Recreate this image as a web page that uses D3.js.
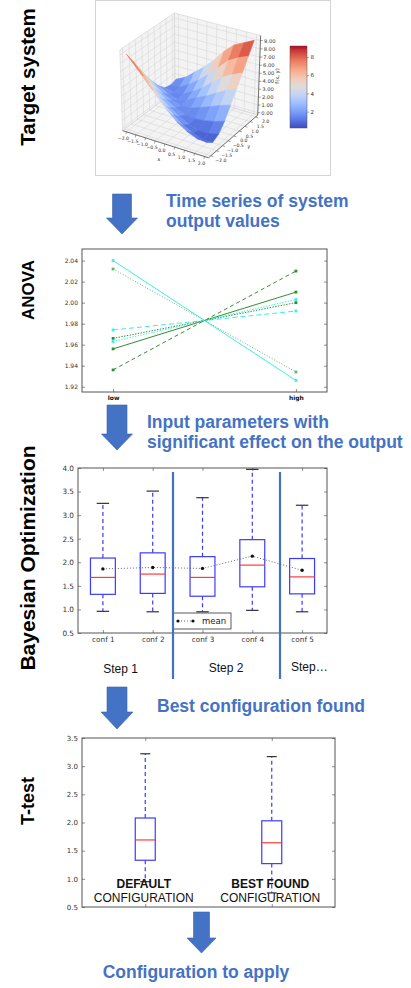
<!DOCTYPE html>
<html>
<head>
<meta charset="utf-8">
<script src="https://cdn.jsdelivr.net/npm/d3@7"></script>
<style>
  body { margin: 0; background: #fff; }
  svg { display: block; }
</style>
</head>
<body>
<svg id="chart" width="411" height="988"></svg>
<script>
// ---- data ----
const sectionLabels = ["Target system", "ANOVA", "Bayesian Optimization", "T-test"];
const stepTexts = [
  ["Time series of system", "output values"],
  ["Input parameters with", "significant effect on the output"],
  ["Best configuration found"],
  ["Configuration to apply"]
];

// target system surface f(x, y), rows = x, cols = y
const gridX = [-2, -1.5, -1, -0.5, 0, 0.5, 1, 1.5, 2];
const gridY = [-2, -1.5, -1, -0.5, 0, 0.5, 1, 1.5, 2];
const surfaceZ = [
  [9.0, 7.6, 6.2, 4.8, 3.5, 2.4, 1.6, 1.4, 1.6],
  [7.7, 6.2, 4.8, 3.5, 2.4, 1.7, 1.3, 1.5, 2.2],
  [6.3, 4.8, 3.5, 2.5, 1.8, 1.4, 1.5, 2.2, 3.2],
  [5.0, 3.6, 2.5, 1.8, 1.5, 1.7, 2.2, 3.1, 4.2],
  [3.7, 2.5, 1.7, 1.3, 1.6, 2.3, 3.0, 4.1, 5.4],
  [2.6, 1.6, 1.1, 1.2, 2.0, 2.9, 4.0, 5.3, 6.8],
  [1.8, 1.0, 0.7, 1.3, 2.5, 3.6, 5.0, 6.5, 7.9],
  [1.3, 0.5, 0.7, 1.6, 3.0, 4.3, 5.7, 7.2, 8.5],
  [1.2, 0.6, 1.0, 2.0, 3.4, 4.8, 6.2, 7.7, 9.1]
];
const xyTicks = [-2, -1.5, -1, -0.5, 0, 0.5, 1, 1.5, 2];
const zTicks = [0, 1, 2, 3, 4, 5, 6, 7, 8, 9];
const cbarTicks = [2, 4, 6, 8];

// ANOVA: value at low / high level
const anovaLevels = ["low", "high"];
const anovaValues = [
  [2.040, 1.926],
  [2.032, 1.934],
  [1.936, 2.030],
  [1.956, 2.010],
  [1.974, 1.992],
  [1.966, 2.000],
  [1.963, 2.003]
];
const anovaTicks = [1.92, 1.94, 1.96, 1.98, 2.00, 2.02, 2.04];

// Bayesian optimization box plots
const confs = ["conf 1", "conf 2", "conf 3", "conf 4", "conf 5"];
const boLow = [0.96, 0.95, 0.95, 0.98, 0.95];
const boQ1 = [1.32, 1.34, 1.28, 1.48, 1.33];
const boMedian = [1.68, 1.75, 1.68, 1.94, 1.69];
const boQ3 = [2.09, 2.20, 2.12, 2.48, 2.08];
const boHigh = [3.25, 3.51, 3.37, 3.97, 3.21];
const boMean = [1.86, 1.89, 1.87, 2.13, 1.83];
const boTicks = [0.5, 1.0, 1.5, 2.0, 2.5, 3.0, 3.5, 4.0];
const stepNames = ["Step 1", "Step 2", "Step\u2026"];

// T-test box plots
const ttGroups = ["default", "best"];
const ttLow = [0.95, 0.75];
const ttQ1 = [1.33, 1.27];
const ttMedian = [1.69, 1.64];
const ttQ3 = [2.08, 2.03];
const ttHigh = [3.22, 3.17];
const ttTop = ["DEFAULT", "BEST FOUND"];
const ttBottom = ["CONFIGURATION", "CONFIGURATION"];
const ttTicks = [0.5, 1.0, 1.5, 2.0, 2.5, 3.0, 3.5];

// ---- styles ----
const ARIAL = "'Liberation Sans', Arial, sans-serif";
const MPL = "'DejaVu Sans', sans-serif";
const BLUE = "#4472c4";
const coolwarm = d3.piecewise(d3.interpolateLab, ["#3b4cc0", "#5977e3", "#7b9ff9", "#9ebeff", "#c0d4f5",
  "#dddcdc", "#f2cbb7", "#f7ac8e", "#ee8468", "#d65244", "#b40426"]);
const anovaStyles = [
  { color: "#3ceeee", dash: null },
  { color: "#62b962", dash: "1,1.8" },
  { color: "#2f8f2f", dash: "4,3" },
  { color: "#2f8f2f", dash: null },
  { color: "#3ceeee", dash: "5,3" },
  { color: "#2f8f2f", dash: "1.4,1.4" },
  { color: "#3ceeee", dash: "1.4,1.4" }
];

const svg = d3.select("#chart");
const minus = s => s.replace("-", "\u2212");

// ---- left section labels ----
const labelLayout = [
  { y: 77, size: 20.5 },
  { y: 290, size: 17 },
  { y: 558, size: 21 },
  { y: 801, size: 18 }
];
svg.selectAll("text.section").data(sectionLabels).join("text")
  .attr("class", "section")
  .attr("transform", (d, i) => `translate(${28 + labelLayout[i].size * 0.33},${labelLayout[i].y}) rotate(-90)`)
  .attr("text-anchor", "middle")
  .attr("font-family", ARIAL).attr("font-weight", "bold")
  .attr("font-size", (d, i) => labelLayout[i].size)
  .attr("fill", "#000")
  .text(d => d);

// ---- arrows and blue captions ----
const arrows = [
  { cx: 122, top: 194, head: 218, tip: 234, sw: 19, hw: 31 },
  { cx: 117, top: 405, head: 434, tip: 450, sw: 20, hw: 31 },
  { cx: 117, top: 687, head: 712, tip: 729, sw: 20, hw: 32 },
  { cx: 201.5, top: 912, head: 938, tip: 953, sw: 16, hw: 29 }
];
svg.selectAll("path.arrow").data(arrows).join("path")
  .attr("class", "arrow")
  .attr("d", a => d3.line()([
    [a.cx - a.sw / 2, a.top], [a.cx + a.sw / 2, a.top], [a.cx + a.sw / 2, a.head],
    [a.cx + a.hw / 2, a.head], [a.cx, a.tip], [a.cx - a.hw / 2, a.head],
    [a.cx - a.sw / 2, a.head]]) + "Z")
  .attr("fill", BLUE).attr("stroke", "#3a63ad").attr("stroke-width", 0.6);

const captionPos = [
  { x: 166, y: 207, anchor: "start" },
  { x: 147, y: 428, anchor: "start" },
  { x: 157, y: 712, anchor: "start" },
  { x: 196, y: 978, anchor: "middle" }
];
stepTexts.forEach((lines, i) => {
  const t = svg.append("text")
    .attr("x", captionPos[i].x).attr("y", captionPos[i].y)
    .attr("text-anchor", captionPos[i].anchor)
    .attr("font-family", ARIAL).attr("font-weight", "bold").attr("font-size", 17.5)
    .attr("fill", BLUE);
  lines.forEach((l, k) => t.append("tspan").attr("x", captionPos[i].x).attr("dy", k ? 19.5 : 0).text(l));
});

// ---- panel 1: 3D surface ----
const p1 = svg.append("g");
p1.append("rect").attr("x", 95.5).attr("y", 0.5).attr("width", 235).attr("height", 175)
  .attr("fill", "#fff").attr("stroke", "#d4d4d4");

const X3 = d3.scaleLinear().domain([-2.2, 2.2]).range([0, 1]);
const Y3 = d3.scaleLinear().domain([-2.2, 2.2]).range([0, 1]);
const Z3 = d3.scaleLinear().domain([-0.3, 9.6]).range([0, 1]);
const O3 = [122, 131], EX = [86, 25], EY = [52, -40], EZ = [0, -80], C3 = [190, 88];
const depth = (x, y, z) => X3(x) - 1.673 * Y3(y) + 1.178 * Z3(z);
const proj = (x, y, z) => {
  const a = X3(x), b = Y3(y), c = Z3(z);
  const f = 1 + 0.035 * (depth(x, y, z) - 0.25);
  const s = [O3[0] + a * EX[0] + b * EY[0] + c * EZ[0], O3[1] + a * EX[1] + b * EY[1] + c * EZ[1]];
  return [C3[0] + (s[0] - C3[0]) * f, C3[1] + (s[1] - C3[1]) * f];
};
const [xa, xb] = X3.domain(), [ya, yb] = Y3.domain(), [za, zb] = Z3.domain();
const poly = pts => d3.line()(pts.map(p => proj(...p))) + "Z";

const panes = [
  [[xa, ya, za], [xa, yb, za], [xa, yb, zb], [xa, ya, zb]],
  [[xa, yb, za], [xb, yb, za], [xb, yb, zb], [xa, yb, zb]],
  [[xa, ya, za], [xb, ya, za], [xb, yb, za], [xa, yb, za]]
];
p1.selectAll("path.pane").data(panes).join("path")
  .attr("class", "pane").attr("d", poly)
  .attr("fill", "#f3f3f3").attr("stroke", "#c8c8c8").attr("stroke-width", 0.5);

const gridLines = [];
xyTicks.forEach(v => {
  gridLines.push([[xa, v, za], [xa, v, zb]], [[v, yb, za], [v, yb, zb]],
    [[v, ya, za], [v, yb, za]], [[xa, v, za], [xb, v, za]]);
});
zTicks.forEach(v => gridLines.push([[xa, ya, v], [xa, yb, v]], [[xa, yb, v], [xb, yb, v]]));
p1.selectAll("path.grid3").data(gridLines).join("path")
  .attr("class", "grid3").attr("d", l => d3.line()(l.map(p => proj(...p))))
  .attr("stroke", "#d2d2d2").attr("stroke-width", 0.5).attr("fill", "none");

// axis lines
p1.append("path").attr("d", d3.line()([proj(xa, ya, za), proj(xb, ya, za), proj(xb, yb, za)]))
  .attr("fill", "none").attr("stroke", "#444").attr("stroke-width", 0.7);
p1.append("path").attr("d", d3.line()([proj(xb, yb, za), proj(xb, yb, zb)]))
  .attr("fill", "none").attr("stroke", "#444").attr("stroke-width", 0.7);

// tick labels
const tick3 = p1.append("g").attr("font-family", MPL).attr("font-size", 4.6).attr("fill", "#333");
xyTicks.forEach(v => {
  const p = proj(v, ya, za);
  tick3.append("line").attr("x1", p[0]).attr("y1", p[1]).attr("x2", p[0] - 0.5).attr("y2", p[1] + 2.5)
    .attr("stroke", "#444").attr("stroke-width", 0.5);
  tick3.append("text").attr("x", p[0] - 3).attr("y", p[1] + 8.5).attr("text-anchor", "middle")
    .text(minus(d3.format(".1f")(v)));
  const q = proj(xb, v, za);
  tick3.append("line").attr("x1", q[0]).attr("y1", q[1]).attr("x2", q[0] + 2.5).attr("y2", q[1] + 1)
    .attr("stroke", "#444").attr("stroke-width", 0.5);
  tick3.append("text").attr("x", q[0] + 10).attr("y", q[1] + 6.5).attr("text-anchor", "middle")
    .text(minus(d3.format(".1f")(v)));
});
const zlab = p1.append("g").attr("font-family", MPL).attr("font-size", 5.2).attr("fill", "#333");
zTicks.forEach(v => {
  const p = proj(xb, yb, v);
  zlab.append("line").attr("x1", p[0]).attr("y1", p[1]).attr("x2", p[0] + 2.5).attr("y2", p[1])
    .attr("stroke", "#444").attr("stroke-width", 0.5);
  zlab.append("text").attr("x", p[0] + 3.5).attr("y", p[1] + 2).text(d3.format(".2f")(v));
});
const xl = proj(0, ya, za), yl = proj(xb, 0, za);
zlab.append("text").attr("x", xl[0] - 6).attr("y", xl[1] + 17).attr("text-anchor", "middle").text("x");
zlab.append("text").attr("x", yl[0] + 15).attr("y", yl[1] + 12).attr("text-anchor", "middle").text("y");
zlab.append("text").attr("transform", "translate(279,76) rotate(-90)").attr("text-anchor", "middle").text("f(x, y)");

// surface quads, painted back to front
const cmap = d3.scaleSequential(coolwarm).domain([0.2, 9.2]);
const quads = [];
for (let i = 0; i < gridX.length - 1; i++) {
  for (let j = 0; j < gridY.length - 1; j++) {
    const pts = [[gridX[i], gridY[j], surfaceZ[i][j]], [gridX[i + 1], gridY[j], surfaceZ[i + 1][j]],
      [gridX[i + 1], gridY[j + 1], surfaceZ[i + 1][j + 1]], [gridX[i], gridY[j + 1], surfaceZ[i][j + 1]]];
    const m = [0, 1, 2].map(k => d3.mean(pts, p => p[k]));
    quads.push({ pts, z: m[2], d: depth(m[0], m[1], m[2]) });
  }
}
quads.sort((a, b) => a.d - b.d);
p1.selectAll("path.surf").data(quads).join("path")
  .attr("class", "surf").attr("d", q => poly(q.pts))
  .attr("fill", q => cmap(q.z)).attr("stroke", q => cmap(q.z)).attr("stroke-width", 0.6)
  .attr("stroke-linejoin", "round");

// colorbar
const cbY = d3.scaleLinear().domain([0.2, 9.2]).range([128, 46]);
const grad = svg.append("defs").append("linearGradient").attr("id", "cw")
  .attr("x1", 0).attr("y1", 1).attr("x2", 0).attr("y2", 0);
grad.selectAll("stop").data(d3.range(0, 1.001, 0.05)).join("stop")
  .attr("offset", d => d).attr("stop-color", d => coolwarm(d));
p1.append("rect").attr("x", 290).attr("y", cbY(9.2)).attr("width", 17).attr("height", cbY(0.2) - cbY(9.2))
  .attr("fill", "url(#cw)").attr("stroke", "#555").attr("stroke-width", 0.5);
p1.append("g").attr("transform", "translate(307,0)")
  .call(d3.axisRight(cbY).tickValues(cbarTicks).tickSize(2).tickPadding(1.5))
  .call(g => g.select(".domain").remove())
  .call(g => g.selectAll("text").attr("font-family", MPL).attr("font-size", 5.5).attr("fill", "#333"))
  .call(g => g.selectAll("line").attr("stroke", "#444").attr("stroke-width", 0.5));

// ---- helper for matplotlib-like frames ----
function frame(g, xs, ys, yTicks, fmt, fs, xTop, xBottom) {
  const [x0, x1] = xs.range(), [yb0, yt0] = ys.range();
  g.append("rect").attr("x", x0).attr("y", yt0).attr("width", x1 - x0).attr("height", yb0 - yt0)
    .attr("fill", "#fff").attr("stroke", "#555").attr("stroke-width", 1);
  const style = a => a.call(s => s.select(".domain").remove())
    .call(s => s.selectAll("line").attr("stroke", "#444").attr("stroke-width", 0.6))
    .call(s => s.selectAll("text").attr("font-family", MPL).attr("font-size", fs).attr("fill", "#333"));
  g.append("g").attr("transform", `translate(${x0},0)`)
    .call(d3.axisLeft(ys).tickValues(yTicks).tickFormat(fmt).tickSize(-3).tickPadding(4)).call(style);
  g.append("g").attr("transform", `translate(${x1},0)`)
    .call(d3.axisRight(ys).tickValues(yTicks).tickFormat("").tickSize(-3)).call(style);
  if (xTop) g.append("g").attr("transform", `translate(0,${yt0})`)
    .call(d3.axisTop(xs).tickFormat("").tickSize(-3)).call(style);
  if (xBottom) g.append("g").attr("transform", `translate(0,${yb0})`)
    .call(d3.axisBottom(xs).tickSize(-3).tickPadding(4)).call(style);
}

// ---- panel 2: ANOVA ----
const p2 = svg.append("g");
const aX = d3.scalePoint().domain(anovaLevels).range([82, 327]).padding(0.17);
const aY = d3.scaleLinear().domain([1.915, 2.051]).range([392, 249]);
frame(p2, aX, aY, anovaTicks, d3.format(".2f"), 6, false, true);
p2.selectAll(".tick text").filter(d => anovaLevels.includes(d)).attr("font-weight", "bold").attr("fill", "#111");
p2.selectAll("g.series").data(anovaValues).join("g").attr("class", "series")
  .each(function (vals, i) {
    const st = anovaStyles[i];
    const pts = vals.map((v, k) => [aX(anovaLevels[k]), aY(v)]);
    d3.select(this).append("path").attr("d", d3.line()(pts))
      .attr("fill", "none").attr("stroke", st.color).attr("stroke-width", 1)
      .attr("stroke-dasharray", st.dash);
    d3.select(this).selectAll("rect").data(pts).join("rect")
      .attr("x", p => p[0] - 1.4).attr("y", p => p[1] - 1.4).attr("width", 2.8).attr("height", 2.8)
      .attr("fill", st.color);
  });

// ---- box plot helper ----
function boxes(g, xs, ys, low, q1, med, q3, high, wFrac) {
  const bw = xs.step() * wFrac, cw = bw / 2;
  xs.domain().forEach((c, i) => {
    const x = xs(c);
    g.append("line").attr("x1", x).attr("x2", x).attr("y1", ys(q3[i])).attr("y2", ys(high[i]))
      .attr("stroke", "#3b3bff").attr("stroke-width", 1.2).attr("stroke-dasharray", "4,3");
    g.append("line").attr("x1", x).attr("x2", x).attr("y1", ys(q1[i])).attr("y2", ys(low[i]))
      .attr("stroke", "#3b3bff").attr("stroke-width", 1.2).attr("stroke-dasharray", "4,3");
    [low[i], high[i]].forEach(v => g.append("line")
      .attr("x1", x - cw / 2).attr("x2", x + cw / 2).attr("y1", ys(v)).attr("y2", ys(v))
      .attr("stroke", "#333").attr("stroke-width", 1.2));
    g.append("rect").attr("x", x - bw / 2).attr("y", ys(q3[i])).attr("width", bw)
      .attr("height", ys(q1[i]) - ys(q3[i]))
      .attr("fill", "none").attr("stroke", "#3b3bff").attr("stroke-width", 1.2);
    g.append("line").attr("x1", x - bw / 2).attr("x2", x + bw / 2).attr("y1", ys(med[i])).attr("y2", ys(med[i]))
      .attr("stroke", "#ff2a2a").attr("stroke-width", 1.1);
  });
}

// ---- panel 3: Bayesian optimization ----
const p3 = svg.append("g");
const bX = d3.scalePoint().domain(confs).range([78, 327]).padding(0.5);
const bY = d3.scaleLinear().domain([0.5, 4.0]).range([633, 468]);
frame(p3, bX, bY, boTicks, d3.format(".1f"), 7.3, true, true);
boxes(p3, bX, bY, boLow, boQ1, boMedian, boQ3, boHigh, 0.5);
const meanPts = confs.map((c, i) => [bX(c), bY(boMean[i])]);
p3.append("path").attr("d", d3.line()(meanPts)).attr("fill", "none")
  .attr("stroke", "#555").attr("stroke-width", 0.9).attr("stroke-dasharray", "1,2");
p3.selectAll("circle.mean").data(meanPts).join("circle").attr("class", "mean")
  .attr("cx", p => p[0]).attr("cy", p => p[1]).attr("r", 1.7).attr("fill", "#111");

// legend
const lg = p3.append("g").attr("transform", "translate(173,613)");
lg.append("rect").attr("width", 58).attr("height", 16).attr("fill", "#fff")
  .attr("stroke", "#333").attr("stroke-width", 0.8);
lg.append("line").attr("x1", 5).attr("x2", 20).attr("y1", 8).attr("y2", 8)
  .attr("stroke", "#555").attr("stroke-width", 0.9).attr("stroke-dasharray", "1,2");
[5, 20].forEach(x => lg.append("circle").attr("cx", x).attr("cy", 8).attr("r", 1.6).attr("fill", "#111"));
lg.append("text").attr("x", 29).attr("y", 11).attr("font-family", MPL).attr("font-size", 8.5)
  .attr("fill", "#222").text("mean");

// step separators and names
[173, 280].forEach(x => p3.append("line").attr("x1", x).attr("x2", x).attr("y1", 472).attr("y2", 679)
  .attr("stroke", BLUE).attr("stroke-width", 2.2));
const stepPos = [{ x: 120.5, a: "middle" }, { x: 226, a: "middle" }, { x: 291, a: "start" }];
p3.selectAll("text.step").data(stepNames).join("text").attr("class", "step")
  .attr("x", (d, i) => stepPos[i].x).attr("y", (d, i) => 673 - i * 0.8)
  .attr("text-anchor", (d, i) => stepPos[i].a)
  .attr("font-family", ARIAL).attr("font-size", 12).attr("fill", "#111")
  .text(d => d);

// ---- panel 4: T-test ----
const p4 = svg.append("g");
const tX = d3.scalePoint().domain(ttGroups).range([82, 335]).padding(0.5);
const tY = d3.scaleLinear().domain([0.5, 3.5]).range([907, 738]);
frame(p4, tX, tY, ttTicks, d3.format(".1f"), 7, true, false);
p4.append("g").attr("transform", "translate(0,907)")
  .call(d3.axisBottom(tX).tickFormat("").tickSize(-3))
  .call(s => s.select(".domain").remove())
  .call(s => s.selectAll("line").attr("stroke", "#444").attr("stroke-width", 0.6));
boxes(p4, tX, tY, ttLow, ttQ1, ttMedian, ttQ3, ttHigh, 0.158);
ttGroups.forEach((gname, i) => {
  const x = tX(gname) - 1.5;
  p4.append("text").attr("x", x).attr("y", 888).attr("text-anchor", "middle")
    .attr("font-family", ARIAL).attr("font-weight", "bold").attr("font-size", 12).attr("fill", "#111")
    .text(ttTop[i]);
  p4.append("text").attr("x", x).attr("y", 902).attr("text-anchor", "middle")
    .attr("font-family", ARIAL).attr("font-size", 12).attr("fill", "#111")
    .text(ttBottom[i]);
});
</script>
</body>
</html>
